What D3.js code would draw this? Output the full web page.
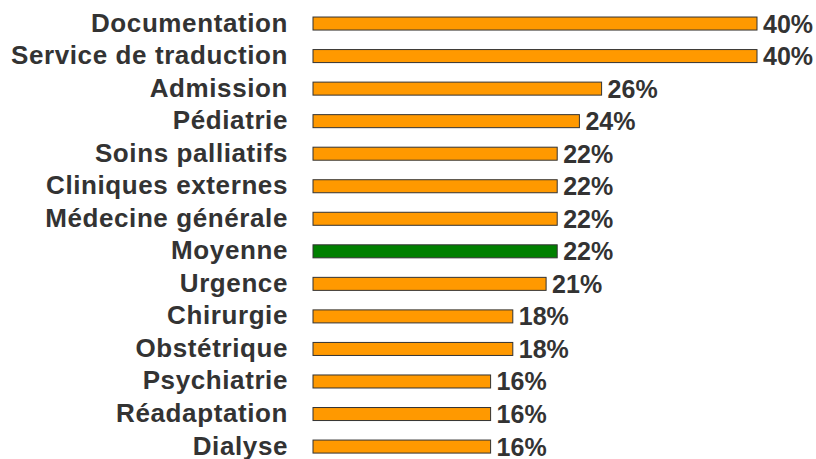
<!DOCTYPE html>
<html>
<head>
<meta charset="utf-8">
<script src="https://cdn.jsdelivr.net/npm/d3@7"></script>
<style>
  body { margin: 0; background: #fff; }
  text { font-family: "Liberation Sans", Arial, sans-serif; font-weight: bold; fill: #333; }
</style>
</head>
<body>
<svg width="816" height="459"></svg>
<script>
const width = 816, height = 459;
const categories = ["Documentation", "Service de traduction", "Admission", "Pédiatrie", "Soins palliatifs",
  "Cliniques externes", "Médecine générale", "Moyenne", "Urgence", "Chirurgie", "Obstétrique",
  "Psychiatrie", "Réadaptation", "Dialyse"];
const values = [40, 40, 26, 24, 22, 22, 22, 22, 21, 18, 18, 16, 16, 16];
const highlight = "Moyenne";

const svg = d3.select("svg");
const x = d3.scaleLinear().domain([0, 40]).range([313, 757]);
const y = d3.scaleBand().domain(categories).range([-2.5, 472.6]).padding(0.6);

const rows = svg.selectAll("g.row")
  .data(categories.map((c, i) => ({cat: c, val: values[i]})))
  .enter().append("g").attr("class", "row");

rows.append("rect")
  .attr("x", x(0))
  .attr("y", d => y(d.cat))
  .attr("width", d => x(d.val) - x(0))
  .attr("height", y.bandwidth())
  .attr("fill", d => d.cat === highlight ? "#008000" : "#ff9900")
  .attr("stroke", "#333")
  .attr("stroke-width", 1);

// category labels
rows.append("text")
  .attr("x", 288)
  .attr("y", d => y(d.cat) + y.bandwidth() / 2 + 8)
  .attr("text-anchor", "end")
  .style("font-size", "26px")
  .style("letter-spacing", "0.6px")
  .text(d => d.cat);

// value labels
rows.append("text")
  .attr("x", d => x(d.val) + 6)
  .attr("y", d => y(d.cat) + y.bandwidth() / 2 + 9)
  .style("font-size", "25px")
  .text(d => d.val + "%");
</script>
</body>
</html>
